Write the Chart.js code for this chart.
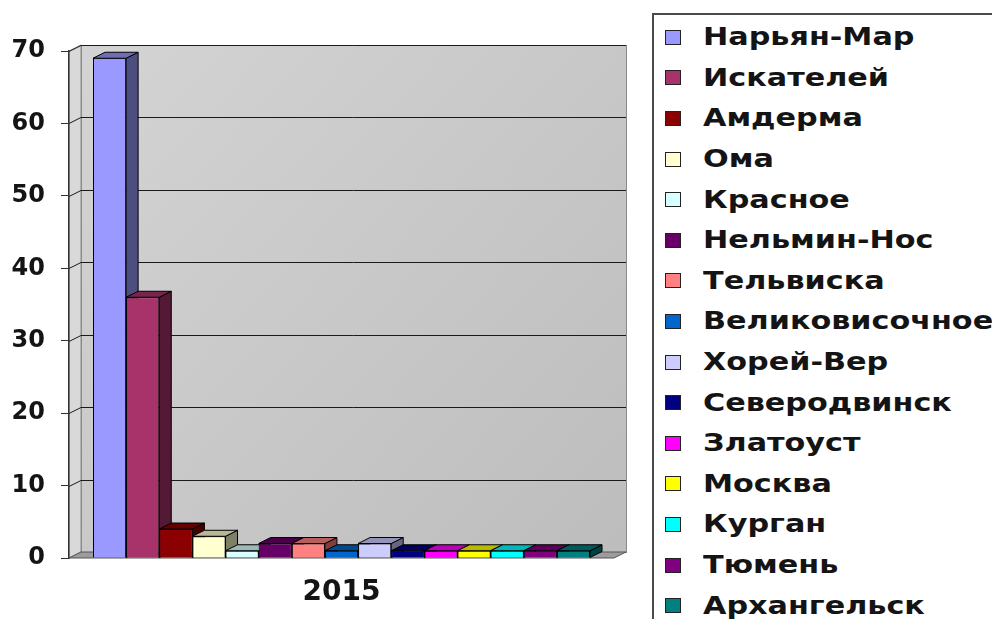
<!DOCTYPE html>
<html>
<head>
<meta charset="utf-8">
<title>2015</title>
<script src="https://cdn.jsdelivr.net/npm/chart.js@4.4.1/dist/chart.umd.min.js"></script>
<style>
    html, body { margin: 0; padding: 0; background: #fff; }
    #stage { position: relative; width: 992px; height: 619px; overflow: hidden; font-family: 'DejaVu Sans', sans-serif; }
    #chartBox { position: absolute; left: 0; top: 0; width: 650px; height: 619px; }
    #legend { position: absolute; left: 652px; top: 13px; width: 400px; height: 640px; border: 2px solid #4a4a4a; box-sizing: border-box; }
    #legend ul { list-style: none; margin: 0; padding: 2px 0 0 11px; }
    #legend li { height: 40.6px; display: flex; align-items: center; }
    #legend .sw { width: 16px; height: 15px; border: 1px solid #222; box-sizing: border-box; margin-right: 22px; flex: none; }
    #legend .tx { font-weight: bold; font-size: 24px; color: #141414; white-space: nowrap; transform: scaleX(1.26); transform-origin: left center; }
</style>
</head>
<body>
<div id="stage">
    <div id="chartBox"><canvas id="cityChart"></canvas></div>
    <div id="legend"></div>
</div>
<script>
const years = ['2015'];
const cities = ['Нарьян-Мар', 'Искателей', 'Амдерма', 'Ома', 'Красное', 'Нельмин-Нос', 'Тельвиска',
    'Великовисочное', 'Хорей-Вер', 'Северодвинск', 'Златоуст', 'Москва', 'Курган', 'Тюмень', 'Архангельск'];
const counts2015 = [69, 36, 4, 3, 1, 2, 2, 1, 2, 1, 1, 1, 1, 1, 1];
const palette = ['#9999ff', '#a8326a', '#8b0000', '#ffffd0', '#d8ffff', '#660066', '#ff8080',
    '#0066cc', '#ccccff', '#000080', '#ff00ff', '#ffff00', '#00ffff', '#800080', '#008080'];

const fontFamily = "'DejaVu Sans', Verdana, sans-serif";
const depthX = 12, depthY = 6;

// darken a hex colour by factor k (0..1)
function shade(hex, k) {
    const n = parseInt(hex.slice(1), 16);
    const r = Math.round(((n >> 16) & 255) * k);
    const g = Math.round(((n >> 8) & 255) * k);
    const b = Math.round((n & 255) * k);
    return 'rgb(' + r + ',' + g + ',' + b + ')';
}

// grey walls, floor and grid lines on the back wall
const wallPlugin = {
    id: 'wall3d',
    beforeDraw(chart) {
        const {ctx, chartArea: a, scales: {y}} = chart;
        ctx.save();
        // side wall
        ctx.fillStyle = '#d9d9d9';
        ctx.beginPath();
        ctx.moveTo(a.left, a.top);
        ctx.lineTo(a.left + depthX, a.top - depthY);
        ctx.lineTo(a.left + depthX, a.bottom - depthY);
        ctx.lineTo(a.left, a.bottom);
        ctx.closePath();
        ctx.fill();
        ctx.strokeStyle = '#8a8a8a';
        ctx.lineWidth = 1;
        ctx.stroke();
        // back wall
        const g = ctx.createLinearGradient(a.left, a.top, a.right, a.bottom);
        g.addColorStop(0, '#d4d4d4');
        g.addColorStop(1, '#bdbdbd');
        ctx.fillStyle = g;
        ctx.fillRect(a.left + depthX, a.top - depthY, a.right - a.left, a.bottom - a.top);
        ctx.strokeRect(a.left + depthX + 0.5, a.top - depthY + 0.5, a.right - a.left, a.bottom - a.top);
        // floor
        ctx.fillStyle = '#9c9c9c';
        ctx.beginPath();
        ctx.moveTo(a.left, a.bottom);
        ctx.lineTo(a.left + depthX, a.bottom - depthY);
        ctx.lineTo(a.right + depthX, a.bottom - depthY);
        ctx.lineTo(a.right, a.bottom);
        ctx.closePath();
        ctx.fill();
        ctx.strokeStyle = '#555';
        ctx.stroke();
        // grid lines
        ctx.strokeStyle = '#1a1a1a';
        ctx.lineWidth = 1;
        y.ticks.forEach(t => {
            if (t.value === 0) return;
            const py = Math.round(y.getPixelForValue(t.value)) + 0.5;
            ctx.beginPath();
            ctx.moveTo(a.left, py);
            ctx.lineTo(a.left + depthX, py - depthY);
            ctx.lineTo(a.right + depthX, py - depthY);
            ctx.stroke();
        });
        ctx.restore();
    }
};

// side and top faces of each bar, drawn before the fronts
const barDepthPlugin = {
    id: 'bars3d',
    beforeDatasetsDraw(chart) {
        const ctx = chart.ctx;
        ctx.save();
        ctx.strokeStyle = '#000';
        ctx.lineWidth = 1;
        chart.data.datasets.forEach((ds, i) => {
            const meta = chart.getDatasetMeta(i);
            meta.data.forEach(bar => {
                const {x, y, base, width} = bar.getProps(['x', 'y', 'base', 'width'], true);
                const left = x - width / 2, right = x + width / 2;
                ctx.fillStyle = shade(ds.backgroundColor, 0.5);
                ctx.beginPath();
                ctx.moveTo(right, y);
                ctx.lineTo(right + depthX, y - depthY);
                ctx.lineTo(right + depthX, base - depthY);
                ctx.lineTo(right, base);
                ctx.closePath();
                ctx.fill();
                ctx.stroke();
                ctx.fillStyle = shade(ds.backgroundColor, 0.72);
                ctx.beginPath();
                ctx.moveTo(left, y);
                ctx.lineTo(left + depthX, y - depthY);
                ctx.lineTo(right + depthX, y - depthY);
                ctx.lineTo(right, y);
                ctx.closePath();
                ctx.fill();
                ctx.stroke();
            });
        });
        ctx.restore();
    }
};

// legend as an html list next to the canvas
const htmlLegendPlugin = {
    id: 'htmlLegend',
    afterUpdate(chart) {
        const box = document.getElementById('legend');
        box.innerHTML = '';
        const ul = document.createElement('ul');
        chart.data.datasets.forEach(ds => {
            const li = document.createElement('li');
            const sw = document.createElement('span');
            sw.className = 'sw';
            sw.style.background = ds.backgroundColor;
            const tx = document.createElement('span');
            tx.className = 'tx';
            tx.textContent = ds.label;
            li.appendChild(sw);
            li.appendChild(tx);
            ul.appendChild(li);
        });
        box.appendChild(ul);
    }
};

const ctx = document.getElementById('cityChart').getContext('2d');
const cityChart = new Chart(ctx, {
    type: 'bar',
    data: {
        labels: years,
        datasets: cities.map((name, i) => ({
            label: name,
            data: [counts2015[i]],
            backgroundColor: palette[i],
            borderColor: '#000',
            borderWidth: 1
        }))
    },
    options: {
        responsive: true,
        maintainAspectRatio: false,
        animation: false,
        layout: { padding: { top: 51, right: 36, left: 0, bottom: 0 } },
        datasets: { bar: { categoryPercentage: 0.912, barPercentage: 1 } },
        plugins: {
            legend: { display: false },
            tooltip: { enabled: false }
        },
        scales: {
            x: {
                grid: { display: false, drawTicks: false },
                border: { display: false },
                ticks: { color: '#141414', padding: 18, font: { family: fontFamily, size: 28, weight: 'bold' } },
                afterFit: s => { s.height = 61; }
            },
            y: {
                min: 0,
                max: 70,
                grid: { drawOnChartArea: false, tickLength: 8, color: '#333' },
                border: { color: '#333', width: 1.5 },
                ticks: { stepSize: 10, color: '#141414', padding: 16, font: { family: fontFamily, size: 24, weight: 'bold' } },
                afterFit: s => { s.width = 69; }
            }
        }
    },
    plugins: [wallPlugin, barDepthPlugin, htmlLegendPlugin]
});
</script>
</body>
</html>
